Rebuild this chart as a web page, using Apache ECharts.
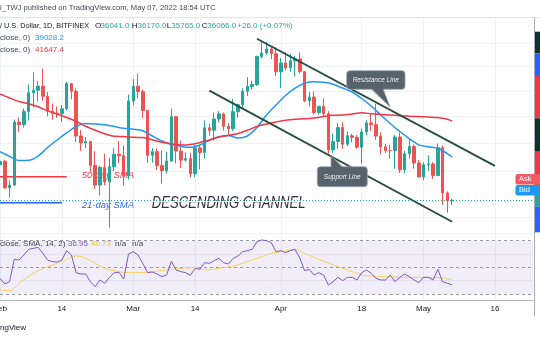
<!DOCTYPE html>
<html><head><meta charset="utf-8">
<script src="https://cdn.jsdelivr.net/npm/echarts@6/dist/echarts.min.js"></script>
<style>html,body{margin:0;padding:0;background:#fff}#c{width:540px;height:340px}</style>
</head><body><div id="c"></div>
<script>
// daily categories Feb 1 .. May 24, 2022
const categories = [];
for (let i = 0; i < 113; i++) { categories.push(new Date(Date.UTC(2022, 1, 1 + i)).toISOString().slice(0, 10)); }
const tickIdx = [0, 13, 28, 41, 59, 76, 89, 104];
const tickLabels = ['Feb', '14', 'Mar', '14', 'Apr', '18', 'May', '16'];

// [open, close, low, high]
const ohlc = [
[38466,38709,38215,39116],[38709,36896,36832,38834],[36896,37075,36250,37388],[37075,41571,37030,41760],
[41571,41382,40841,41914],[41382,42380,41150,42600],[42380,43839,41690,44500],[43839,44042,42690,45500],
[44042,44372,43160,44790],[44372,43565,43200,45821],[43565,42407,42000,43900],[42407,42244,41750,43000],
[42244,42197,41880,42760],[42197,42586,41570,42880],[42586,44575,42450,44700],[44575,43961,43330,44600],
[43961,40538,40100,44180],[40538,40030,39460,40970],[40030,40122,39650,40450],[40122,38431,38010,40150],
[38431,37075,36820,39430],[37075,38286,36390,38420],[38286,37296,37050,39260],[37296,38332,34322,38950],
[38332,39214,38050,39680],[39214,39105,38600,40140],[39105,37709,37050,39850],[37709,43193,37450,43700],
[43193,44354,42850,44950],[44354,43924,43400,45400],[43924,42451,41850,44100],[42451,39137,38600,42500],
[39137,39400,38620,39660],[39400,38419,38100,39630],[38419,38062,37180,39480],[38062,38737,37860,39400],
[38737,41982,38660,42580],[41982,39437,38560,42000],[39437,38794,38240,40200],[38794,38904,38700,39350],
[38904,37849,37600,39300],[37849,39666,37600,39900],[39666,39338,38150,39860],[39338,41143,38900,41700],
[41143,40951,40550,41450],[40951,41801,40180,42300],[41801,42190,41550,42400],[42190,41247,40930,42300],
[41247,41077,40550,41500],[41077,42358,40900,43350],[42358,42892,41900,42990],[42892,43960,42600,44200],
[43960,44348,43600,45100],[44348,44500,44100,44800],[44500,46820,44400,46900],[46820,47128,46650,48190],
[47128,47465,46950,48096],[47465,47062,46600,47700],[47062,45538,45200,47600],[45538,46281,44210,46700],
[46281,45868,45650,47200],[45868,46453,45550,47050],[46453,46622,45150,46880],[46622,45555,45400,47150],
[45555,43206,43100,45555],[43206,43503,42750,43900],[43503,42287,42150,43950],[42287,42782,42150,42800],
[42782,42207,42000,43400],[42207,39521,39250,42400],[39521,40127,39300,40700],[40127,41166,39600,41500],
[41166,39935,39600,41550],[39935,40553,39800,40850],[40553,40424,40050,40700],[40424,39716,39600,40600],
[39716,40827,38540,41100],[40827,41503,40600,41700],[41503,41374,40900,42200],[41374,40527,40250,42976],
[40527,39740,39200,40800],[39740,39478,39300,39950],[39478,39469,38900,39900],[39469,40458,38200,40600],
[40458,38117,37900,40800],[38117,39241,37880,39450],[39241,39773,38900,40350],[39773,38596,38200,39900],
[38596,37630,37600,38800],[37630,38468,37400,38650],[38468,38525,38050,39150],[38525,37728,37500,38650],
[37728,39690,37680,39980],[39690,36552,35770,39850],[36552,36040,35258,36650],[36041,36066,35765,36170]
];

// [day index, value]
const sma21 = [[0,39392],[2,39064],[4,38768],[6,38783],[8,39086],[10,39694],[12,40238],[14,40754],[16,41237],
[18,41461],[20,41424],[22,41363],[24,41237],[26,41100],[28,41028],[30,40921],[32,40530],[34,40164],[36,39911],
[38,39781],[40,39706],[42,39874],[44,40224],[46,40473],[48,40567],[50,40383],[52,40530],[54,41161],[56,42106],
[58,42877],[60,43620],[62,44217],[64,44606],[66,44720],[68,44679],[70,44523],[72,44217],[74,43900],[76,43385],
[78,42798],[80,42106],[82,41461],[84,40862],[86,40347],[88,39888],[90,39745],[92,39644],[94,39261],[95,39028]];

const sma50 = [[0,43742],[2,43425],[4,43148],[6,42978],[8,42738],[10,42420],[12,42183],[14,41914],[16,41627],
[18,41252],[20,40952],[22,40693],[24,40509],[26,40494],[28,40435],[30,40420],[32,40253],[34,40070],[36,39961],
[38,39874],[40,39911],[42,40055],[44,40238],[46,40456],[48,40567],[50,40714],[52,40952],[54,41237],[56,41424],
[58,41573],[60,41709],[62,41785],[64,41815],[66,41878],[68,41991],[70,42083],[72,42106],[74,42183],[76,42276],
[78,42196],[80,42142],[82,42106],[84,42051],[86,42015],[88,41983],[90,41951],[92,41914],[94,41785],[95,41647]];

const rsi = [41.75,37.5,39.25,56,55.5,59.25,63.5,64.25,65,60.5,55.5,54.25,54,55.5,62.5,59.25,46,45,45,39.25,
35.5,40.5,38,42.5,46,46.25,41.25,60,61.75,59.25,53,46,46.5,45,43,44.25,54.5,48,46.75,46,
44,49.25,48.5,53.5,53,55,56.75,53.5,52.5,56.75,58.5,61.75,62.5,63.5,69.25,70.5,70,68.5,61.75,62.5,
61,62.5,63.5,57,47.5,48.5,44.25,46,44.25,36.75,39.25,42.5,40,42.5,42.5,40.5,46,48,45.5,41.75,
40.5,40.5,44.25,39.25,42.5,45,43,40.5,38.5,42.5,42.5,40.5,48.5,39.25,38,36.95];

const rsiMa = [[0,33],[2,32.5],[4,38],[7,45.5],[10,50.5],[13,54.25],[15,57.5],[16,58.5],[18,56.75],[20,53],
[22,49.25],[25,46.75],[27,46],[29,46],[32,46.75],[35,48],[38,49.25],[41,49.75],[43,48],[46,49.25],[49,51],
[52,54.25],[55,58],[57,60.5],[59,61.75],[61,63],[62,63.5],[64,60.5],[67,56],[71,50.5],[74,46.75],[76,44.25],
[78,43.5],[81,43],[85,42.5],[88,42.5],[92,42.25],[95,40.73]];

const priceGrid = [34000, 35000, 36000, 38000, 40000, 42000, 44000, 46000, 48000];
const lastClose = 36066;
const resistance = [[54, 48363], [104, 38391]];
const support = [[44, 44012], [95, 34693]];
const rsiBands = [70, 50, 30];
const rsiGrid = [60, 40];

const F = '"Liberation Sans", Arial, sans-serif';
const T = (text, x, y, fill, font, extra, z) => ({type: 'text', x: x, y: y, z: z || 50,
  style: Object.assign({text: text, fill: fill, font: font, textAlign: 'left', textVerticalAlign: 'middle'}, extra || {})});
const L = (x1, y1, x2, y2, stroke, w, z) => ({type: 'line', z: z || 50, shape: {x1, y1, x2, y2}, style: {stroke, lineWidth: w}});
const R = (x, y, w, h, fill, z, r) => ({type: 'rect', z: z || 50, shape: {x, y, width: w, height: h, r: r || 0}, style: {fill}});
const f8 = '8px ' + F;
const tickFn = (i) => tickIdx.indexOf(i) >= 0;

const boxFill = '#56626c', boxStroke = '#9aa6ae';
const graphics = [
  // header / legends
  T('l_TWJ published on TradingView.com, May 07, 2022 18:54 UTC', 0, 8, '#434651', '7.6px ' + F),
  L(0, 17.5, 540, 17.5, '#e0e3eb', 1),
  T('/ U.S. Dollar, 1D, BITFINEX', 0, 26, '#131722', '7.3px ' + F),
  T('O', 95, 26, '#131722', f8), T('36041.0', 100.5, 26, '#26a69a', f8),
  T('H', 131.7, 26, '#131722', f8), T('36170.0', 137.5, 26, '#26a69a', f8),
  T('L', 166.7, 26, '#131722', f8), T('35765.0', 171.3, 26, '#26a69a', f8),
  T('C', 201.7, 26, '#131722', f8), T('36066.0', 207.3, 26, '#26a69a', f8),
  T('+26.0 (+0.07%)', 237.3, 26, '#26a69a', f8),
  T('close, 0)', 0, 38, '#434651', f8), T('39028.2', 35, 38, '#2196f3', f8),
  T('close, 0)', 0, 50, '#434651', f8), T('41647.4', 35, 50, '#f23645', f8),
  T('close, SMA, 14, 2)', 0, 244, '#434651', f8), T('36.95', 68, 244, '#7e57c2', f8),
  T('40.73', 91, 244, '#e9c63a', f8), T('n/a', 115, 244, '#434651', f8), T('n/a', 132, 244, '#434651', f8),
  T('ngView', 0, 328, '#131722', f8),
  // annotation labels (under candles)
  L(0, 176.7, 66.7, 176.7, '#f23645', 1.5, 1),
  L(0, 202.7, 62, 202.7, '#2962ff', 1.5, 1),
  T('50-day SMA', 81.7, 175.7, '#f23645', 'italic 9.5px ' + F, null, 1),
  T('21-day SMA', 81.7, 205, '#2962ff', 'italic 9.5px ' + F, null, 1),
  Object.assign(T('DESCENDING CHANNEL', 151.7, 203.3, '#2f323c', 'italic 16px ' + F, null, 1), {scaleX: 0.82}),
  // callouts
  {type: 'rect', z: 100, shape: {x: 346.7, y: 70.7, width: 58.3, height: 18.6, r: 3}, style: {fill: boxFill, stroke: boxStroke, lineWidth: 0.8}},
  {type: 'polygon', z: 101, shape: {points: [[371, 88], [383, 88], [390, 107]]}, style: {fill: boxFill}},
  {type: 'polyline', z: 101, shape: {points: [[371, 89.3], [390, 107], [383, 89.3]]}, style: {stroke: boxStroke, lineWidth: 0.8, fill: null}},
  T('Resistance Line', 375.8, 80, '#eceff2', 'italic 6.5px ' + F, {textAlign: 'center'}, 102),
  {type: 'rect', z: 100, shape: {x: 317.3, y: 166.7, width: 50, height: 20, r: 3}, style: {fill: boxFill, stroke: boxStroke, lineWidth: 0.8}},
  {type: 'polygon', z: 101, shape: {points: [[331, 168], [343, 168], [331, 155.5]]}, style: {fill: boxFill}},
  {type: 'polyline', z: 101, shape: {points: [[331, 166.7], [331, 155.5], [343, 166.7]]}, style: {stroke: boxStroke, lineWidth: 0.8, fill: null}},
  T('Support Line', 342.3, 176.7, '#eceff2', 'italic 6.5px ' + F, {textAlign: 'center'}, 102),
  // price axis edge
  L(534.5, 18, 534.5, 316, '#a8abb4', 1),
  R(535, 31.7, 5, 21.6, '#0e3129'), R(535, 53.3, 5, 21.7, '#2962ff'), R(535, 75, 5, 43.3, '#f23645'),
  R(535, 118.3, 5, 33.4, '#0e3129'), R(535, 151.7, 5, 36.6, '#f23645'), R(535, 188.3, 5, 18.4, '#26a69a'),
  R(535, 206.7, 5, 25.6, '#2962ff'),
  {type: 'rect', z: 60, shape: {x: 515.5, y: 174, width: 24.5, height: 10.6, r: [2, 0, 0, 2]}, style: {fill: '#f25b63'}},
  {type: 'rect', z: 60, shape: {x: 515.5, y: 185, width: 24.5, height: 10.6, r: [2, 0, 0, 2]}, style: {fill: '#2196f3'}},
  T('Ask', 519, 179.4, '#ffffff', '7.5px ' + F, null, 61),
  T('Bid', 519, 190.4, '#ffffff', '7.5px ' + F, null, 61)
];

const chart = echarts.init(document.getElementById('c'), null, {renderer: 'canvas'});
chart.setOption({
  animation: false,
  backgroundColor: '#ffffff',
  grid: [
    {left: 0, right: 7, top: 18, bottom: 100, outerBoundsMode: 'none', containLabel: false},
    {left: 0, right: 7, top: 236, bottom: 40, outerBoundsMode: 'none', containLabel: false}
  ],
  xAxis: [
    {type: 'category', gridIndex: 0, data: categories, boundaryGap: false,
     axisLine: {show: false}, axisTick: {show: false}, axisLabel: {show: false},
     splitLine: {show: true, interval: tickFn, lineStyle: {color: '#eef1f6', width: 1}}},
    {type: 'category', gridIndex: 1, data: categories, boundaryGap: false,
     axisLine: {show: true, onZero: false, lineStyle: {color: '#b2b5be', width: 1}}, axisTick: {show: false},
     axisLabel: {show: true, interval: tickFn, formatter: (v, i) => tickLabels[tickIdx.indexOf(i)],
       color: '#131722', fontSize: 8, fontFamily: 'Liberation Sans', margin: 5,
       alignMinLabel: 'center', alignMaxLabel: 'center', hideOverlap: false},
     splitLine: {show: true, interval: tickFn, lineStyle: {color: '#eef1f6', width: 1}}}
  ],
  yAxis: [
    {type: 'log', gridIndex: 0, min: 33559, max: 50212, show: false},
    {type: 'value', gridIndex: 1, min: 25.5, max: 73.5, show: false}
  ],
  series: [
    {type: 'candlestick', xAxisIndex: 0, yAxisIndex: 0, data: ohlc, barWidth: 3, z: 3,
     itemStyle: {color: '#26a69a', color0: '#ef5350', borderColor: '#26a69a', borderColor0: '#ef5350', borderWidth: 1},
     markLine: {silent: true, symbol: 'none', z: 1, label: {show: false}, animation: false,
       lineStyle: {color: '#eef1f6', width: 1, type: 'solid'},
       data: priceGrid.map(v => ({yAxis: v}))}},
    {type: 'line', xAxisIndex: 0, yAxisIndex: 0, data: sma21, symbol: 'none', smooth: 0.3, z: 4,
     lineStyle: {color: '#2196f3', width: 1.5},
     markLine: {silent: true, symbol: 'none', z: 5, label: {show: false}, animation: false,
       data: [
         [{coord: resistance[0], lineStyle: {color: '#264b3f', width: 1.8, type: 'solid'}}, {coord: resistance[1]}],
         [{coord: support[0], lineStyle: {color: '#264b3f', width: 1.8, type: 'solid'}}, {coord: support[1]}],
         {yAxis: lastClose, lineStyle: {color: '#26a69a', width: 1, type: [1, 2]}}
       ]}},
    {type: 'line', xAxisIndex: 0, yAxisIndex: 0, data: sma50, symbol: 'none', smooth: 0.3, z: 4,
     lineStyle: {color: '#f23645', width: 1.5}},
    {type: 'line', xAxisIndex: 1, yAxisIndex: 1, data: rsi, symbol: 'none', z: 4,
     lineStyle: {color: '#7e57c2', width: 1},
     markArea: {silent: true, itemStyle: {color: 'rgba(126,87,194,0.1)'}, data: [[{yAxis: 70}, {yAxis: 30}]]},
     markLine: {silent: true, symbol: 'none', z: 2, label: {show: false}, animation: false,
       data: rsiBands.map(v => ({yAxis: v, lineStyle: {color: '#9598a1', width: 1, type: [3, 3]}}))
         .concat(rsiGrid.map(v => ({yAxis: v, lineStyle: {color: '#e4e0ef', width: 1, type: 'solid'}})))}},
    {type: 'line', xAxisIndex: 1, yAxisIndex: 1, data: rsiMa, symbol: 'none', smooth: 0.4, z: 3,
     lineStyle: {color: '#f3d15a', width: 1}}
  ],
  graphic: {elements: graphics}
});
</script></body></html>
